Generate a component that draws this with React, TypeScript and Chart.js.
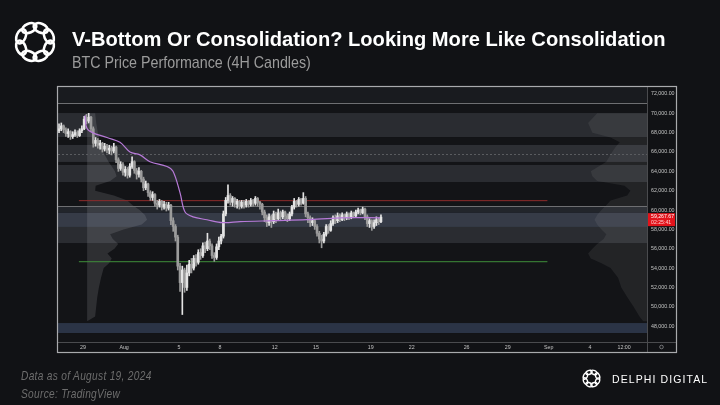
import React, { useEffect, useRef } from "react";
import { Chart, registerables } from "chart.js";

Chart.register(...registerables);

// ---------- DATA ----------
// time axis: days relative to Jul 29 00:00 (4H candles)
const CANDLE_START_DAY = -1.75;
const CANDLE_STEP_DAY = 1 / 6;
const FIRST_OPEN = 68200;

const CLOSES = [
  68400, 68700, 68300, 67900, 68100, 67600, 67800, 68000, 67700, 68200,
  68400, 69400, 69200, 69600, 68400, 66900, 67200, 66700, 66900, 66300,
  66600, 66200, 66400, 66100, 66500, 65200, 64300, 64700, 63900, 64200,
  63600, 64500, 65000, 64100, 63700, 64000, 63200, 62300, 62700, 61800,
  61300, 61600, 60700, 60500, 60900, 60300, 60600, 60200, 60500, 58900,
  58300, 57200, 54200, 52500, 53800, 52000, 53500, 54400, 54000, 55000,
  54600, 55600, 55300, 56300, 56000, 56800, 56300, 55300, 55100, 56200,
  56800, 57300, 59600, 61000, 61500, 60800, 61200, 60600, 60900, 60400,
  60800, 60500, 60900, 60600, 61000, 60700, 61200, 60800, 60600, 59800,
  59200, 58700, 59300, 58800, 59600, 59100, 59700, 59300, 59800, 59400,
  59100, 59600, 60300, 60900, 60600, 61100, 60700, 61200, 59600, 59200,
  58700, 58900, 58300, 57600, 57000, 56800, 57500, 58300, 57900, 58600,
  59200, 58900, 59400, 59000, 59500, 59200, 59600, 59300, 59700, 59400,
  59800, 60000, 59700, 60100, 59300, 58600, 58900, 58300, 58700, 59000,
  58800, 59267,
];
const HIGHS = [
  68900, 69000, 68800, 68500, 68400, 68200, 68100, 68300, 68200, 68400,
  68700, 69700, 69900, 70000, 69700, 68600, 67500, 67400, 67200, 67000,
  66900, 66800, 66700, 66600, 66900, 66600, 65400, 65000, 64900, 64500,
  64400, 64800, 65500, 65100, 64300, 64400, 64100, 63400, 63000, 62800,
  62000, 61900, 61700, 61000, 61100, 61000, 60900, 60800, 60800, 60600,
  59200, 58500, 57400, 54500, 54200, 54000, 54300, 54800, 55000, 55300,
  55400, 55900, 56000, 56600, 56700, 57600, 57000, 56500, 55600, 56500,
  57200, 57500, 59900, 61300, 62600, 61700, 61400, 61300, 61100, 61000,
  61000, 61000, 61100, 61000, 61200, 61100, 61400, 61300, 60900, 60700,
  60000, 59500, 59600, 59500, 59900, 59800, 60100, 59900, 60000, 59900,
  59600, 59800, 60500, 61200, 61000, 61300, 61200, 61800, 61400, 59800,
  59400, 59200, 59000, 58500, 57800, 57400, 57700, 58500, 58500, 58900,
  59400, 59500, 59700, 59600, 59700, 59600, 59800, 59700, 59900, 59800,
  60000, 60200, 60100, 60300, 60200, 59500, 59100, 59000, 59000, 59300,
  59200, 59500,
];
const LOWS = [
  68000, 68200, 68000, 67600, 67500, 67300, 67400, 67600, 67500, 67600,
  68000, 68300, 68900, 69000, 68100, 66500, 66600, 66400, 66300, 66000,
  66100, 65900, 65800, 65700, 65900, 64900, 64000, 64100, 63600, 63500,
  63300, 63400, 64300, 63800, 63200, 63400, 62900, 62000, 62100, 61400,
  61000, 61000, 60400, 60100, 60300, 60000, 60100, 59900, 60000, 58500,
  57800, 56800, 53800, 51600, 49200, 51500, 51700, 53200, 53500, 53800,
  54200, 54400, 54900, 55100, 55600, 55800, 55900, 55000, 54700, 54900,
  55900, 56500, 57100, 59400, 60700, 60500, 60400, 60300, 60200, 60100,
  60200, 60200, 60300, 60300, 60400, 60400, 60500, 60400, 60100, 59500,
  58800, 58300, 58400, 58200, 58600, 58700, 58900, 59000, 59100, 59000,
  58800, 58900, 59400, 60100, 60300, 60400, 60500, 60600, 59300, 58700,
  58300, 58400, 58000, 57300, 56600, 56100, 56600, 57300, 57600, 57800,
  58400, 58600, 58700, 58800, 58900, 58900, 59000, 59000, 59100, 59200,
  59300, 59600, 59500, 59600, 59000, 58300, 58200, 57900, 58100, 58400,
  58500, 58700,
];

// anchored VWAP (purple)
const VWAP_DAYS = [0.15, 0.36, 1.75, 2.7, 3.43, 4.16, 4.89, 6.13, 6.57, 7.08, 7.45, 8.03, 9.05, 10.2, 11.46, 13.87, 16.35, 18.76, 21.68];
const VWAP_PRICES = [69800, 68300, 67500, 67000, 66000, 65700, 65000, 64500, 64000, 61800, 59800, 59300, 59000, 58700, 58800, 58900, 59000, 59200, 59200];

// red / green levels
const RED_LEVEL = 60970;
const GREEN_LEVEL = 54660;
const LEVEL_START_DAY = -0.3;
const LEVEL_END_DAY = 33.9;

// full-width reference lines
const SOLID_LEVELS = [71070, 60420];
const DOTTED_LEVELS = [65800];

// horizontal zones
const ZONE_HIGHS = [72720, 70030, 66730, 64660, 60320, 59700, 58250, 48320];
const ZONE_LOWS = [71070, 67550, 64970, 62900, 59700, 58250, 56590, 47290];

// volume profiles
const PROFILE_PRICES = [70000, 69000, 68000, 67500, 67000, 66500, 66000, 65000, 64000, 63500, 63000, 62500, 62000, 61500, 61000, 60500, 60000, 59500, 59000, 58500, 58000, 57500, 57000, 56500, 56000, 55500, 55000, 54500, 54000, 53000, 52000, 51000, 50000, 49000, 48500];
const LEFT_PROFILE_VOL = [1.5, 1.7, 2, 2.2, 2.4, 2.6, 3, 4, 5.2, 5.5, 4.3, 1.6, 1.5, 5, 7.5, 8.5, 9.8, 10.8, 11.2, 10.2, 6.8, 4.3, 4.8, 5.8, 5.1, 3.8, 4.6, 4.1, 3.1, 2.6, 2.2, 1.9, 1.7, 1.5, 0];
const RIGHT_PROFILE_VOL = [9.3, 11, 10.2, 6.8, 5.1, 5.9, 6.5, 7.6, 10.5, 10.2, 9.3, 4.2, 3.1, 3.7, 6.8, 7.6, 8.5, 9.3, 9.8, 9.3, 8.5, 7.6, 8.1, 9.3, 10.2, 11, 10.5, 8.5, 6.8, 5.4, 4.8, 3.7, 2.5, 1.4, 0.7];
const LEFT_PROFILE_ANCHOR_DAY = 0.3;

// axes
const X_MIN = -1.825;
const X_MAX = 41.17;
const Y_MIN = 46360;
const Y_MAX = 72720;
const X_TICK_DAYS = [0, 3, 7, 10, 14, 17, 21, 24, 28, 31, 34, 37, 39.5];
const X_TICK_LABELS = ["29", "Aug", "5", "8", "12", "15", "19", "22", "26", "29", "Sep", "4", "12:00"];
const Y_TICKS = [48000, 50000, 52000, 54000, 56000, 58000, 60000, 62000, 64000, 66000, 68000, 70000, 72000];
const LAST_PRICE_LABEL = "59,267.67";
const COUNTDOWN_LABEL = "02:25:41";

// ---------- STYLE ----------
const PAGE_BG = "#111215";
const PLOT_BG = "#131417";
const ZONE_COLORS = ["#191b1f", "#2a2c31", "#2d2f34", "#2a2c31", "#22252b", "#363b47", "#2a2c31", "#2b3446"];
const UP = "#e4e4e4";
const DOWN = "#9c9c9c";
const TICK_FONT = { family: "'Liberation Sans', Arial, sans-serif", size: 5.3 };

function openAt(i: number) {
  return i === 0 ? FIRST_OPEN : CLOSES[i - 1];
}

const panelPlugin = {
  id: "panel",
  beforeDatasetsDraw(chart: any) {
    const { ctx, chartArea: a, scales } = chart;
    const x = scales.x;
    const y = scales.y;
    const vol = scales.vol;
    ctx.save();
    ctx.beginPath();
    ctx.rect(a.left, a.top, a.right - a.left, a.bottom - a.top);
    ctx.clip();
    ctx.fillStyle = PLOT_BG;
    ctx.fillRect(a.left, a.top, a.right - a.left, a.bottom - a.top);
    // zones
    ZONE_HIGHS.forEach((hi, i) => {
      const t = y.getPixelForValue(hi);
      const b = y.getPixelForValue(ZONE_LOWS[i]);
      ctx.fillStyle = ZONE_COLORS[i];
      ctx.fillRect(a.left, t, a.right - a.left, b - t);
    });
    const v0 = vol.getPixelForValue(0);
    // left profile
    const ax = x.getPixelForValue(LEFT_PROFILE_ANCHOR_DAY);
    ctx.fillStyle = "rgba(200,200,205,0.15)";
    ctx.beginPath();
    ctx.moveTo(ax, y.getPixelForValue(PROFILE_PRICES[0]));
    PROFILE_PRICES.forEach((p, i) => {
      const py = y.getPixelForValue(p);
      const px = ax + (vol.getPixelForValue(LEFT_PROFILE_VOL[i]) - v0);
      ctx.lineTo(px, py);
    });
    ctx.lineTo(ax, y.getPixelForValue(PROFILE_PRICES[PROFILE_PRICES.length - 1]));
    ctx.closePath();
    ctx.fill();
    // right profile
    const rx = a.right;
    ctx.fillStyle = "rgba(200,200,205,0.09)";
    ctx.beginPath();
    ctx.moveTo(rx, y.getPixelForValue(PROFILE_PRICES[0]));
    PROFILE_PRICES.forEach((p, i) => {
      const py = y.getPixelForValue(p);
      const px = rx - (vol.getPixelForValue(RIGHT_PROFILE_VOL[i]) - v0);
      ctx.lineTo(px, py);
    });
    ctx.lineTo(rx, y.getPixelForValue(PROFILE_PRICES[PROFILE_PRICES.length - 1]));
    ctx.closePath();
    ctx.fill();
    // reference lines
    ctx.strokeStyle = "#6e6f72";
    ctx.lineWidth = 1.2;
    SOLID_LEVELS.forEach((p) => {
      const py = Math.round(y.getPixelForValue(p)) + 0.5;
      ctx.beginPath();
      ctx.moveTo(a.left, py);
      ctx.lineTo(a.right, py);
      ctx.stroke();
    });
    ctx.setLineDash([2, 2]);
    ctx.strokeStyle = "#5a5c60";
    ctx.lineWidth = 1;
    DOTTED_LEVELS.forEach((p) => {
      const py = Math.round(y.getPixelForValue(p)) + 0.5;
      ctx.beginPath();
      ctx.moveTo(a.left, py);
      ctx.lineTo(a.right, py);
      ctx.stroke();
    });
    ctx.restore();
  },
  afterDraw(chart: any) {
    const { ctx, chartArea: a, scales } = chart;
    const y = scales.y;
    const xs = scales.x;
    ctx.save();
    // separators and frame
    ctx.strokeStyle = "#4a4b4e";
    ctx.lineWidth = 1;
    ctx.beginPath();
    ctx.moveTo(a.right + 0.5, a.top);
    ctx.lineTo(a.right + 0.5, xs.bottom);
    ctx.moveTo(a.left, a.bottom + 0.5);
    ctx.lineTo(y.right, a.bottom + 0.5);
    ctx.stroke();
    ctx.strokeStyle = "#a9aaad";
    ctx.lineWidth = 1.2;
    ctx.strokeRect(a.left - 0.5, a.top - 0.5, y.right - a.left + 1, xs.bottom - a.top + 1);
    // last price box
    const py = y.getPixelForValue(CLOSES[CLOSES.length - 1]);
    ctx.fillStyle = "#e3131b";
    ctx.fillRect(a.right + 1, py - 4, y.right - a.right - 2, 13);
    ctx.fillStyle = "#ffffff";
    ctx.font = "5.2px 'Liberation Sans', Arial, sans-serif";
    ctx.textBaseline = "middle";
    ctx.textAlign = "left";
    ctx.fillText(LAST_PRICE_LABEL, a.right + 4, py - 0.5);
    ctx.fillStyle = "#ffd0d0";
    ctx.fillText(COUNTDOWN_LABEL, a.right + 4, py + 5);
    // settings glyph
    ctx.strokeStyle = "#8a8b8e";
    ctx.lineWidth = 0.8;
    ctx.beginPath();
    ctx.arc((a.right + y.right) / 2, (a.bottom + xs.bottom) / 2, 1.8, 0, Math.PI * 2);
    ctx.stroke();
    ctx.restore();
  },
};

function Logo({ size, x, y, stroke }: { size: number; x: number; y: number; stroke: number }) {
  const loops = [0, 1, 2, 3, 4, 5, 6, 7];
  return (
    <svg width={size} height={size} viewBox="-32 -32 64 64" style={{ position: "absolute", left: x, top: y }}>
      {loops.map((k) => {
        const deg = k * 45 + 22.5;
        const ang = (deg * Math.PI) / 180;
        const cx = Math.cos(ang) * 20;
        const cy = Math.sin(ang) * 20;
        return (
          <ellipse
            key={k}
            cx={cx}
            cy={cy}
            rx={10}
            ry={6}
            transform={`rotate(${deg + 90} ${cx} ${cy})`}
            fill="none"
            stroke="#ffffff"
            strokeWidth={stroke}
          />
        );
      })}
    </svg>
  );
}

export default function App() {
  const ref = useRef<HTMLCanvasElement | null>(null);
  useEffect(() => {
    if (!ref.current) return;
    const times = CLOSES.map((_, i) => CANDLE_START_DAY + i * CANDLE_STEP_DAY);
    const chart = new Chart(ref.current, {
      type: "bar",
      data: {
        datasets: [
          {
            type: "line",
            label: "red",
            data: [
              { x: LEVEL_START_DAY, y: RED_LEVEL },
              { x: LEVEL_END_DAY, y: RED_LEVEL },
            ],
            borderColor: "#8e2b2b",
            borderWidth: 1,
            pointRadius: 0,
            order: 5,
          } as any,
          {
            type: "line",
            label: "green",
            data: [
              { x: LEVEL_START_DAY, y: GREEN_LEVEL },
              { x: LEVEL_END_DAY, y: GREEN_LEVEL },
            ],
            borderColor: "#3f8f3a",
            borderWidth: 1,
            pointRadius: 0,
            order: 5,
          } as any,
          {
            label: "wicks",
            data: times.map((t, i) => ({ x: t, y: [LOWS[i], HIGHS[i]] })),
            backgroundColor: (c: any) => (CLOSES[c.dataIndex] >= openAt(c.dataIndex) ? UP : DOWN),
            barThickness: 1,
            grouped: false,
            order: 3,
          } as any,
          {
            label: "bodies",
            data: times.map((t, i) => ({ x: t, y: [openAt(i), CLOSES[i]] })),
            backgroundColor: (c: any) => (CLOSES[c.dataIndex] >= openAt(c.dataIndex) ? UP : DOWN),
            barThickness: 2,
            minBarLength: 1,
            grouped: false,
            order: 2,
          } as any,
          {
            type: "line",
            label: "vwap",
            data: VWAP_DAYS.map((d, i) => ({ x: d, y: VWAP_PRICES[i] })),
            borderColor: "#b77ad8",
            borderWidth: 1.2,
            pointRadius: 0,
            tension: 0.35,
            order: 1,
          } as any,
        ],
      },
      options: {
        responsive: false,
        animation: false,
        events: [],
        layout: { padding: { left: 58, top: 87, right: 44, bottom: 53 } },
        plugins: { legend: { display: false }, tooltip: { enabled: false } },
        scales: {
          x: {
            type: "linear",
            min: X_MIN,
            max: X_MAX,
            offset: false,
            grid: { display: false, drawTicks: false },
            border: { display: false },
            afterBuildTicks: (s: any) => {
              s.ticks = X_TICK_DAYS.map((v) => ({ value: v }));
            },
            afterFit: (s: any) => {
              s.height = 10;
            },
            ticks: {
              autoSkip: false,
              maxRotation: 0,
              padding: 2,
              color: "#c4c4c4",
              font: TICK_FONT,
              callback: (v: any) => {
                const k = X_TICK_DAYS.indexOf(Number(v));
                return k >= 0 ? X_TICK_LABELS[k] : "";
              },
            },
          },
          vol: {
            type: "linear",
            axis: "x",
            position: "bottom",
            display: false,
            min: 0,
            max: 100,
          },
          y: {
            type: "linear",
            position: "right",
            min: Y_MIN,
            max: Y_MAX,
            grid: { display: false, drawTicks: false },
            border: { display: false },
            afterBuildTicks: (s: any) => {
              s.ticks = Y_TICKS.map((v) => ({ value: v }));
            },
            afterFit: (s: any) => {
              s.width = 29;
            },
            ticks: {
              padding: 4,
              color: "#c4c4c4",
              font: TICK_FONT,
              callback: (v: any) =>
                Number(v).toLocaleString("en-US", { minimumFractionDigits: 2, maximumFractionDigits: 2 }),
            },
          },
        },
      } as any,
      plugins: [panelPlugin],
    });
    return () => chart.destroy();
  }, []);

  const sans = "'Liberation Sans', Arial, sans-serif";
  return (
    <div
      style={{
        position: "absolute",
        left: 0,
        top: 0,
        width: 720,
        height: 405,
        background: PAGE_BG,
        overflow: "hidden",
        fontFamily: sans,
      }}
    >
      <canvas ref={ref} width={720} height={405} style={{ position: "absolute", left: 0, top: 0, display: "block" }} />
      <Logo size={48} x={11} y={18} stroke={3.4} />
      <div
        style={{
          position: "absolute",
          left: 72,
          top: 27,
          fontSize: 21,
          fontWeight: 700,
          color: "#ffffff",
          whiteSpace: "nowrap",
          lineHeight: "24px",
          transform: "scaleX(0.958)",
          transformOrigin: "left top",
        }}
      >
        V-Bottom Or Consolidation? Looking More Like Consolidation
      </div>
      <div
        style={{
          position: "absolute",
          left: 72,
          top: 53,
          fontSize: 17,
          color: "#9b9b9b",
          whiteSpace: "nowrap",
          lineHeight: "20px",
          transform: "scaleX(0.84)",
          transformOrigin: "left top",
        }}
      >
        BTC Price Performance (4H Candles)
      </div>
      <div
        style={{
          position: "absolute",
          left: 21,
          top: 367,
          fontSize: 13,
          fontStyle: "italic",
          color: "#6d6d6d",
          whiteSpace: "nowrap",
          lineHeight: "18px",
          letterSpacing: 0.4,
          transform: "scaleX(0.78)",
          transformOrigin: "left top",
        }}
      >
        <div>Data as of August 19, 2024</div>
        <div>Source: TradingView</div>
      </div>
      <Logo size={21} x={581} y={368} stroke={4.2} />
      <div
        style={{
          position: "absolute",
          left: 612,
          top: 372,
          fontSize: 10.5,
          color: "#ffffff",
          whiteSpace: "nowrap",
          lineHeight: "14px",
          letterSpacing: 1.1,
          fontFamily: sans,
        }}
      >
        DELPHI DIGITAL
      </div>
    </div>
  );
}
